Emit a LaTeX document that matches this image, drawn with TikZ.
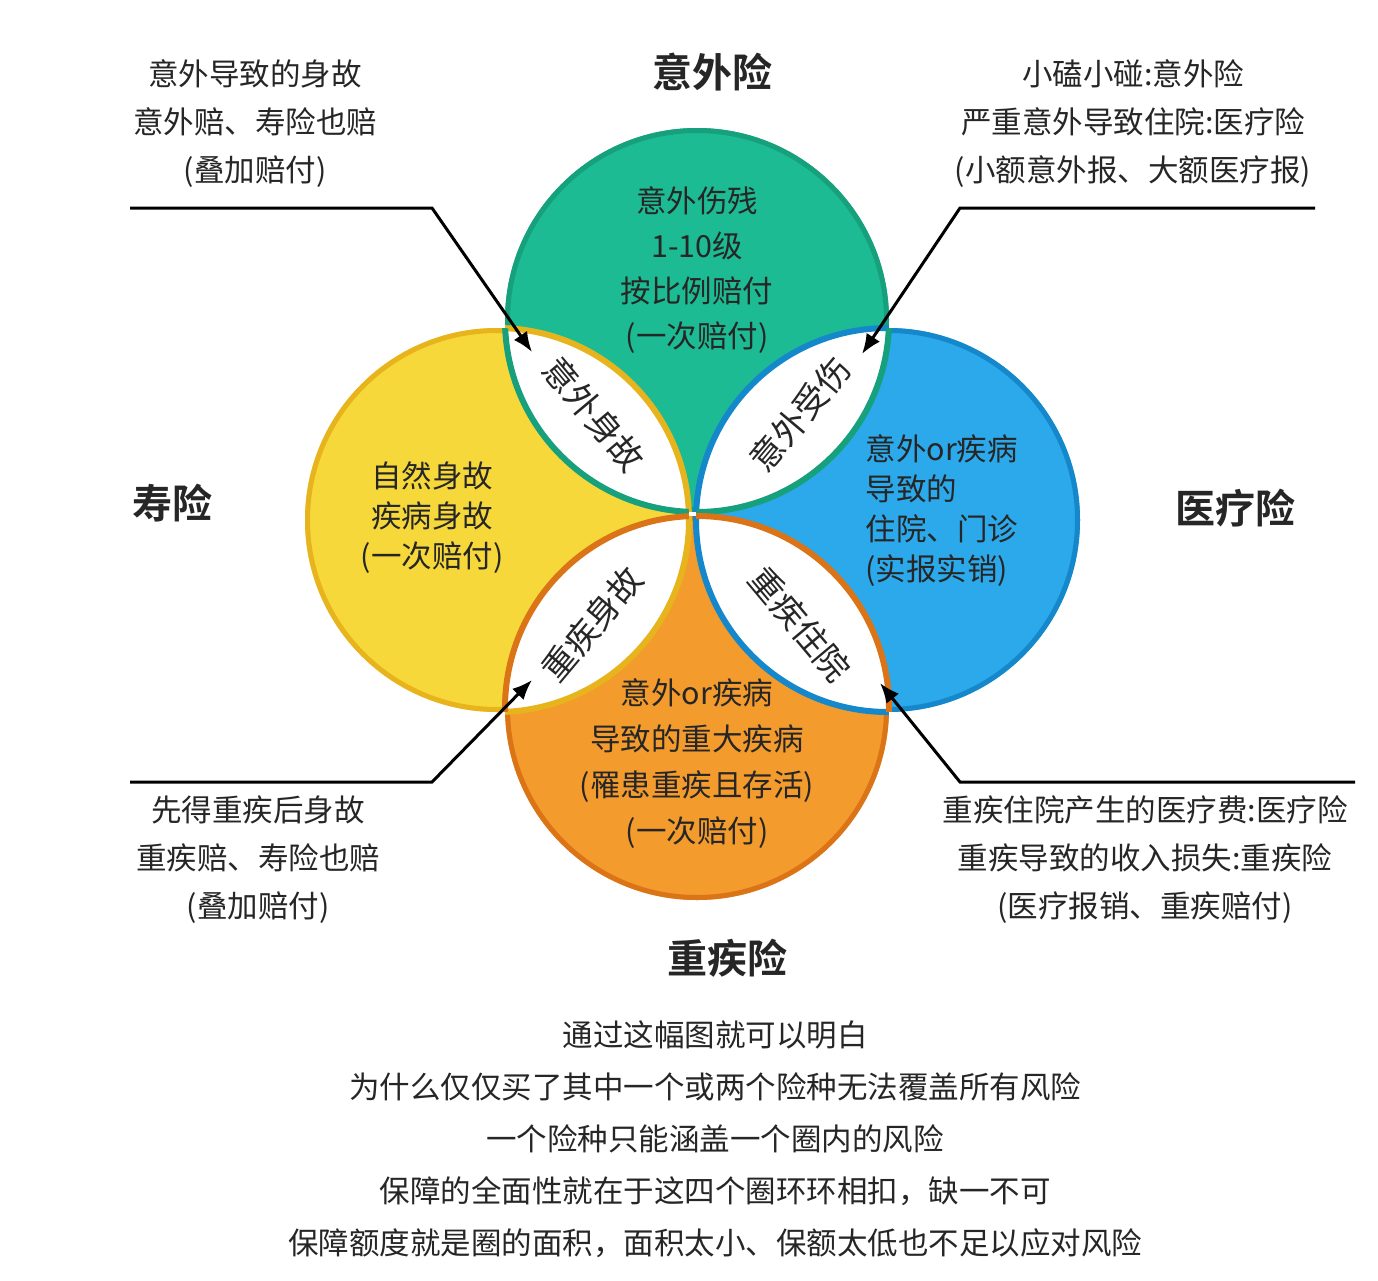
\documentclass[tikz,border=0pt]{standalone}
\usepackage{fontspec}
\setmainfont{Noto Sans CJK SC}[BoldFont={Noto Sans CJK SC Bold}]
\usetikzlibrary{arrows.meta}
\begin{document}
\begin{tikzpicture}[x=1pt,y=-1pt,
  txt/.style={font=\fontsize{30.5}{#1}\selectfont, text=black!85, align=center},
  txt/.default=46,
  ttl/.style={font=\fontsize{40}{44}\selectfont\bfseries, text=black!85},
  lens/.style={font=\fontsize{34}{38}\selectfont, text=black!85, inner sep=0pt},
  arr/.style={draw=black, line width=3pt, -{Latex[length=20pt,width=16pt]}}]
\definecolor{cg}{HTML}{1DBB93}\definecolor{rg}{HTML}{16A07C}
\definecolor{cy}{HTML}{F6D83A}\definecolor{ry}{HTML}{E8B41E}
\definecolor{cb}{HTML}{2BA9EA}\definecolor{rb}{HTML}{1588CC}
\definecolor{co}{HTML}{F39B2D}\definecolor{ro}{HTML}{DB7417}
\useasboundingbox (0,0) rectangle (1378,1280);
\fill[white] (0,0) rectangle (1378,1280);
\coordinate (G) at (697,320); \coordinate (Y) at (497,520);
\coordinate (B) at (888,520); \coordinate (O) at (697,708);
\def\R{192}
\foreach \c/\f/\r in {G/cg/rg,Y/cy/ry,B/cb/rb,O/co/ro}{
  \fill[\f] (\c) circle (\R);
  \draw[\r, line width=5pt] (\c) circle (\R-2.5);
}
\foreach \a/\b/\ra/\rb in {G/Y/rg/ry,G/B/rg/rb,O/Y/ro/ry,O/B/ro/rb}{
  \begin{scope}\clip (\a) circle (\R); \fill[white] (\b) circle (\R);
    \draw[\rb, line width=6pt] (\b) circle (\R);\end{scope}
  \begin{scope}\clip (\b) circle (\R);
    \draw[\ra, line width=6pt] (\a) circle (\R);\end{scope}
}
% lens labels
\node[lens, rotate=-50] (l1) at (594,414) {意外身故};
\node[lens, rotate=50] (l2) at (800,414) {意外受伤};
\node[lens, rotate=50] (l3) at (592,624) {重疾身故};
\node[lens, rotate=-50] (l4) at (800,624) {重疾住院};
% titles
\node[ttl] (t1) at (712,72) {意外险};
\node[ttl] (t2) at (172,503) {寿险};
\node[ttl] (t3) at (1235,508) {医疗险};
\node[ttl] (t4) at (727,958) {重疾险};
% circle texts
\node[txt=45] (gt) at (697,270) {意外伤残\\1-10级\\按比例赔付\\(一次赔付)};
\node[txt=40] (yt) at (432,518) {自然身故\\疾病身故\\(一次赔付)};
\node[txt=40, align=left, anchor=west] (bt) at (862,511) {意外or疾病\\导致的\\住院、门诊\\(实报实销)};
\node[txt=46] (ot) at (697,764) {意外or疾病\\导致的重大疾病\\(罹患重疾且存活)\\(一次赔付)};
% corner texts
\node[txt=48] (c1) at (255,124) {意外导致的身故\\意外赔、寿险也赔\\(叠加赔付)};
\node[txt=48] (c2) at (1133,124) {小磕小碰:意外险\\严重意外导致住院:医疗险\\(小额意外报、大额医疗报)};
\node[txt=48] (c3) at (258,860) {先得重疾后身故\\重疾赔、寿险也赔\\(叠加赔付)};
\node[txt=48] (c4) at (1145,860) {重疾住院产生的医疗费:医疗险\\重疾导致的收入损失:重疾险\\(医疗报销、重疾赔付)};
% arrows
\coordinate (a1) at (130,208); \coordinate (b1) at (432,208); \coordinate (e1) at (532,352);
\coordinate (a2) at (1315,208); \coordinate (b2) at (960,208); \coordinate (e2) at (862,354);
\coordinate (a3) at (130,782); \coordinate (b3) at (432,782); \coordinate (e3) at (532,680);
\coordinate (a4) at (1355,782); \coordinate (b4) at (960,782); \coordinate (e4) at (880,683);
\foreach \i in {1,2,3,4}{\draw[arr] (a\i) -- (b\i) -- (e\i);}
% bottom paragraph
\node[txt=52] (p) at (715,1139) {通过这幅图就可以明白\\为什么仅仅买了其中一个或两个险种无法覆盖所有风险\\一个险种只能涵盖一个圈内的风险\\保障的全面性就在于这四个圈环环相扣，缺一不可\\保障额度就是圈的面积，面积太小、保额太低也不足以应对风险};
\end{tikzpicture}
\end{document}
